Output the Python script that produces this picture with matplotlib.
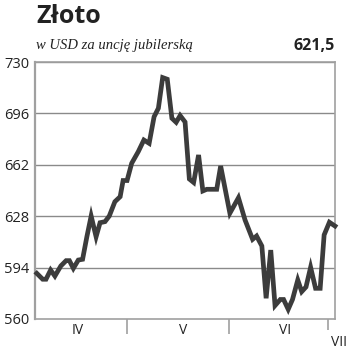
import matplotlib
matplotlib.use("Agg")
import matplotlib.pyplot as plt

# data: day offsets (calendar days from 1 April) and gold price in USD/oz
days = [2.6, 4.4, 5.4, 6.8, 8.1, 9.9, 11.5, 12.5, 13.7, 15.2, 16.5, 17.8, 19.1, 20.6,
        21.8, 23.3, 24.6, 26.3, 27.9, 28.8, 30.0, 31.4, 33.4, 35.1, 36.7, 38.2, 39.5,
        40.8, 42.2, 43.6, 44.9, 46.1, 47.6, 48.9, 50.2, 51.7, 53.0, 54.2, 57.2, 58.4,
        61.2, 63.8, 65.8, 68.1, 69.3, 70.9, 72.2, 73.6, 74.9, 76.5, 77.5, 78.9, 80.2,
        81.8, 83.0, 84.3, 85.7, 87.2, 88.6, 89.8, 91.4, 93.1]
prices = [590.2, 586.3, 586.3, 592.4, 588.4, 595.1, 598.6, 598.6, 593.5, 599.0, 599.5,
          614.4, 628.1, 614.4, 623.7, 624.4, 628.1, 637.6, 640.9, 651.6, 651.6, 663.0,
          670.7, 678.4, 676.2, 693.8, 699.4, 719.7, 718.6, 692.8, 690.1, 694.6, 690.3,
          652.6, 650.3, 668.5, 644.7, 645.8, 645.8, 661.2, 630.0, 640.2, 625.5, 612.7,
          614.9, 608.3, 573.7, 605.6, 568.9, 572.9, 572.9, 566.4, 572.9, 585.8, 578.1,
          581.2, 594.2, 580.3, 580.3, 615.6, 624.0, 621.5]
yticks = [560, 594, 628, 662, 696, 730]
month_bounds = [30, 61, 91]
month_labels = ["IV", "V", "VI", "VII"]
month_label_pos = [15, 47, 78, 94.3]
title = "Złoto"
subtitle = "w USD za uncję jubilerską"
last_value = "621,5"

W, H = 350, 352
fig = plt.figure(figsize=(W / 100, H / 100), dpi=100)
fig.patch.set_facecolor("white")
ax = fig.add_axes([35 / W, 1 - 319 / H, 300 / W, 257 / H])

grid_c = "#8a8a8a"
ax.set_xlim(2.06, 93.1)
ax.set_ylim(560, 730)
for v in yticks[1:]:
    ax.axhline(v, color=grid_c, lw=1.0, zorder=1)
ax.plot(days, prices, color="#3c3c3c", lw=3.4, solid_joinstyle="miter", zorder=3, clip_on=False)

for s in ax.spines.values():
    s.set_color("#a0a0a0")
    s.set_linewidth(1.2)
ax.spines["left"].set_linewidth(1.6)

ax.set_yticks(yticks)
ax.set_yticklabels([str(v) for v in yticks], fontsize=10.5, family="Open Sans", color="#222222")
ax.tick_params(axis="y", length=0, pad=4)

ax.set_xticks(month_bounds)
ax.set_xticklabels([])
ax.tick_params(axis="x", length=11, width=1.2, color="#a0a0a0", direction="out")
ax.xaxis.get_major_ticks()[-1].tick1line.set_markersize(8)

for i, (lab, pos) in enumerate(zip(month_labels, month_label_pos)):
    yoff = -11 if i < 3 else -23
    ax.annotate(lab, xy=(pos, 560), xycoords="data", xytext=(0, yoff), textcoords="offset pixels",
                ha="center", va="center", fontsize=10, family="Open Sans", color="#222222",
                annotation_clip=False)

fig.text(36 / W, 1 - 16.5 / H, title, fontsize=18, fontweight="bold", family="Open Sans",
         color="#222222", ha="left", va="center")
fig.text(36 / W, 1 - 46 / H, subtitle, fontsize=10.5, style="italic", family="Liberation Serif",
         color="#222222", ha="left", va="center")
fig.text(335 / W, 1 - 45.5 / H, last_value, fontsize=11.5, fontweight="bold", family="Open Sans",
         color="#222222", ha="right", va="center")

fig.savefig("out.png", dpi=100, facecolor="white")
